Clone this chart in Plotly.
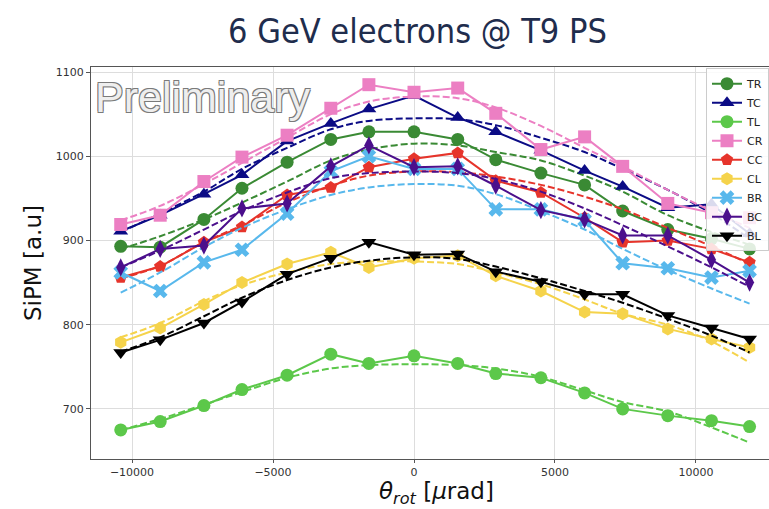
import plotly.graph_objects as go

# Rotation angle of the crystal (µrad)
theta = [-10400, -9000, -7450, -6100, -4500, -2950, -1600, 0,
         1550, 2900, 4500, 6050, 7400, 9000, 10550, 11900]

# Measured SiPM amplitude per channel
TR = [893, 892, 925, 962, 993, 1020, 1029, 1029, 1020, 996, 980, 966, 935, 913, 902, 890]
TC = [911, 930, 955, 978, 1018, 1039, 1056, 1072, 1046, 1029, 1007, 983, 964, 939, 943, 908]
TL = [675, 685, 704, 723, 740, 765, 754, 763, 754, 742, 737, 719, 700, 692, 686, 679]
CR = [919, 930, 970, 999, 1025, 1057, 1085, 1076, 1081, 1051, 1008, 1023, 988, 944, 933, 927]
CC = [856, 869, 898, 916, 954, 963, 987, 997, 1004, 971, 957, 927, 898, 900, 890, 874]
CL = [779, 796, 824, 850, 872, 886, 868, 879, 882, 858, 840, 815, 813, 795, 783, 773]
BR = [862, 840, 874, 889, 932, 982, 1000, 985, 985, 937, 937, 924, 873, 867, 856, 864]
BC = [868, 890, 894, 938, 944, 988, 1013, 987, 988, 965, 936, 925, 906, 906, 877, 850]
BL = [767, 782, 802, 827, 860, 879, 898, 883, 884, 863, 851, 836, 836, 811, 796, 783]

# Fitted curves (dashed), same abscissae
TR_fit = [890, 905, 925, 945, 970, 995, 1008, 1015, 1013, 1005, 995, 977, 958, 930, 910, 895]
TC_fit = [910, 932, 958, 985, 1010, 1032, 1042, 1045, 1044, 1037, 1022, 1005, 985, 960, 932, 902]
TL_fit = [675, 688, 705, 720, 737, 748, 752, 753, 752, 748, 738, 722, 708, 697, 678, 660]
CR_fit = [924, 941, 967, 992, 1022, 1050, 1065, 1071, 1069, 1058, 1036, 1010, 988, 960, 935, 915]
CC_fit = [855, 870, 898, 918, 945, 965, 977, 982, 981, 976, 966, 952, 937, 915, 893, 872]
CL_fit = [785, 802, 828, 847, 862, 872, 875, 875, 872, 862, 848, 830, 813, 800, 780, 755]
BR_fit = [838, 862, 892, 915, 937, 954, 963, 967, 965, 955, 935, 913, 890, 865, 843, 825]
BC_fit = [868, 888, 913, 935, 957, 974, 980, 982, 980, 973, 958, 938, 918, 893, 868, 845]
BL_fit = [768, 785, 810, 832, 853, 868, 876, 880, 878, 869, 855, 840, 826, 807, 787, 767]

channels = [
    ("TR", TR, TR_fit, "#3a8a34", "circle"),
    ("TC", TC, TC_fit, "#0b0b85", "triangle-up"),
    ("TL", TL, TL_fit, "#5cc84a", "circle"),
    ("CR", CR, CR_fit, "#ec7fc3", "square"),
    ("CC", CC, CC_fit, "#e6342b", "pentagon"),
    ("CL", CL, CL_fit, "#f5d34b", "hexagon"),
    ("BR", BR, BR_fit, "#58b8ec", "x"),
    ("BC", BC, BC_fit, "#4b0f8c", "diamond-tall"),
    ("BL", BL, BL_fit, "#000000", "triangle-down"),
]

fig = go.Figure()
for name, vals, fit, col, sym in channels:
    fig.add_trace(go.Scatter(
        x=theta, y=vals, name=name, mode="lines+markers",
        line=dict(color=col, width=2),
        marker=dict(color=col, symbol=sym, size=13, line=dict(width=0)),
    ))
    fig.add_trace(go.Scatter(
        x=theta, y=fit, mode="lines", showlegend=False, hoverinfo="skip",
        line=dict(color=col, width=2, dash="7px,3px", shape="spline", smoothing=1.0),
    ))

axis_font = dict(family="DejaVu Sans", size=11, color="#333333")

fig.update_layout(
    width=769, height=509,
    margin=dict(l=91, r=0, t=67, b=50),
    paper_bgcolor="white", plot_bgcolor="white",
    showlegend=True,
    legend=dict(
        x=1.0, y=0.997, xanchor="right", yanchor="top",
        bgcolor="rgba(255,255,255,0.85)", bordercolor="#cccccc", borderwidth=1,
        font=dict(family="DejaVu Sans", size=11, color="#222222"),
        itemwidth=30, tracegroupgap=0,
    ),
    xaxis=dict(
        range=[-11454, 12589], tickvals=[-10000, -5000, 0, 5000, 10000],
        ticktext=["\u221210000", "\u22125000", "0", "5000", "10000"],
        showgrid=True, gridcolor="#dddddd", gridwidth=1, zeroline=False,
        showline=True, linecolor="#555555", linewidth=1.2, mirror=True,
        ticks="outside", ticklen=3, tickcolor="#555555", tickfont=axis_font,
    ),
    yaxis=dict(
        range=[640.5, 1106], tickvals=[700, 800, 900, 1000, 1100],
        showgrid=True, gridcolor="#dddddd", gridwidth=1, zeroline=False,
        showline=True, linecolor="#555555", linewidth=1.2, mirror=False,
        ticks="outside", ticklen=4, tickcolor="#555555", tickfont=axis_font,
    ),
)

annotations = [
    # chart title
    dict(text="6 GeV electrons @ T9 PS", xref="paper", yref="paper",
         x=(417 - 91) / 678, y=(459 - 31) / 392, xanchor="center", yanchor="middle",
         showarrow=False,
         font=dict(family="DejaVu Sans Condensed, Liberation Sans Narrow, DejaVu Sans",
                   size=34, color="#1f2d4d")),
    # axis titles
    dict(text="SiPM [a.u]", xref="paper", yref="paper",
         x=(33 - 91) / 678, y=0.5, xanchor="center", yanchor="middle",
         textangle=-90, showarrow=False,
         font=dict(family="DejaVu Sans", size=23, color="#111111")),
    dict(text="<i>\u03b8</i><sub><i>rot</i></sub> [<i>\u03bc</i>rad]",
         xref="paper", yref="paper",
         x=(436 - 91) / 678, y=(459 - 509) / 392, xanchor="center", yanchor="bottom",
         showarrow=False, borderpad=0,
         font=dict(family="DejaVu Sans", size=23, color="#111111")),
    # watermark
    dict(text="Preliminary", xref="paper", yref="paper",
         x=(93 - 91) / 678, y=(459 - 97) / 392, xanchor="left", yanchor="middle",
         showarrow=False,
         font=dict(family="Liberation Sans", size=43, color="#eeeeee",
                   shadow="1px 1px 0 #7a7a7a, -1px -1px 0 #7a7a7a, 1px -1px 0 #7a7a7a, -1px 1px 0 #7a7a7a")),
]
fig.update_layout(annotations=annotations)

fig.write_html("out.html")
